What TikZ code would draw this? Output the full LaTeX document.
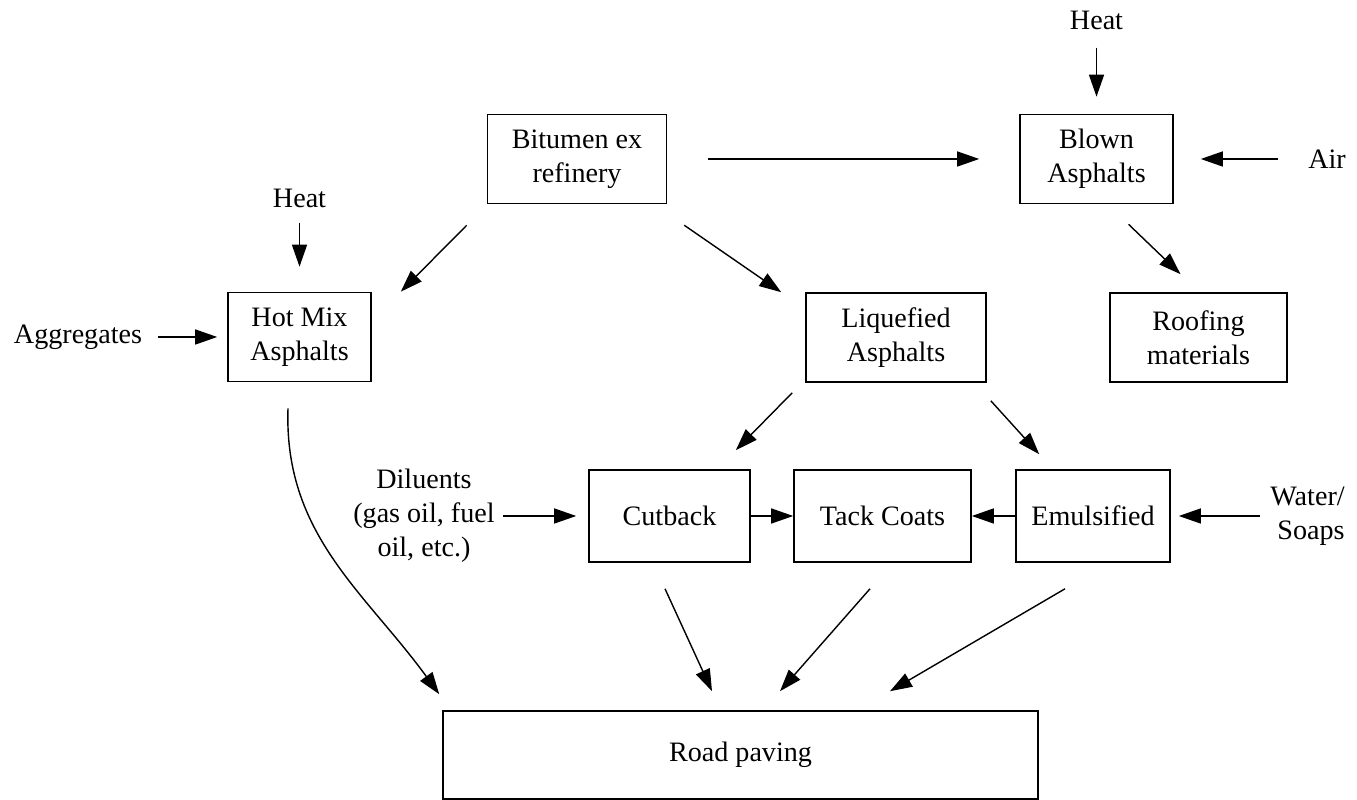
\documentclass[tikz,border=0pt]{standalone}
\usepackage{fontspec}
\setmainfont{Liberation Serif}
\usetikzlibrary{arrows.meta}

\begin{document}
\begin{tikzpicture}[
  stage/.style={draw, line width=0.9pt, minimum height=1.78cm, align=center, font=\fontsize{16}{19.3}\selectfont, inner sep=2pt},
  feed/.style={align=center, font=\fontsize{16}{19.3}\selectfont, inner sep=0pt},
  flow/.style={line width=0.8pt, -{Triangle[length=4.4mm,width=3mm]}}
]
  \useasboundingbox (0,0) rectangle (27.14,16);

  \node[stage, minimum width=3.58cm] (bitumen) at (11.54,12.82) {Bitumen ex\\refinery};
  \node[stage, minimum width=3.06cm] (blown) at (21.93,12.82) {Blown\\Asphalts};
  \node[stage, minimum width=2.86cm] (hotmix) at (5.99,9.26) {Hot Mix\\Asphalts};
  \node[stage, minimum width=3.6cm] (liquefied) at (17.92,9.25) {Liquefied\\Asphalts};
  \node[stage, minimum width=3.54cm] (roofing) at (23.97,9.25) {Roofing\\materials};
  \node[stage, minimum width=3.22cm, minimum height=1.84cm] (cutback) at (13.39,5.68) {Cutback};
  \node[stage, minimum width=3.54cm, minimum height=1.84cm] (tack) at (17.65,5.68) {Tack Coats};
  \node[stage, minimum width=3.08cm, minimum height=1.84cm] (emulsified) at (21.86,5.68) {Emulsified};
  \node[stage, minimum width=11.9cm, minimum height=1.76cm] (road) at (14.81,0.9) {Road paving};

  \node[feed] (heattop) at (21.93,15.6) {Heat};
  \node[feed] (heatleft) at (5.99,12.04) {Heat};
  \node[feed] (air) at (26.54,12.82) {Air};
  \node[feed] (aggregates) at (1.56,9.26) {Aggregates};
  \node[feed] (diluents) at (8.48,5.68) {Diluents\\(gas oil, fuel\\oil, etc.)};
  \node[feed, align=right, anchor=east] (water) at (26.9,5.68) {Water/\\Soaps};

  \draw[flow, shorten <=0.36cm, shorten >=0.34cm] (heattop) -- (blown);
  \draw[flow, shorten <=0.6cm, shorten >=0.54cm] (air) -- (blown);
  \draw[flow, shorten <=0.82cm, shorten >=0.8cm] (bitumen) -- (blown);
  \draw[flow, shorten <=0.3cm, shorten >=0.5cm] (heatleft) -- (hotmix);
  \draw[flow, shorten <=0.32cm, shorten >=0.2cm] (aggregates) -- (hotmix);
  \draw[flow, shorten <=0.16cm, shorten >=0.24cm] (diluents) -- (cutback);
  \draw[flow] (cutback) -- (tack);
  \draw[flow] (emulsified) -- (tack);
  \draw[flow, shorten <=0.2cm, shorten >=0.16cm] (water) -- (emulsified);

  \draw[flow] ([shift={(-0.4,-0.42)}]bitumen.south west) -- ([shift={(0.58,0)}]hotmix.north east);
  \draw[flow] ([shift={(0.34,-0.42)}]bitumen.south east) -- ([shift={(-0.48,0)}]liquefied.north west);
  \draw[flow] ([shift={(0.64,-0.4)}]blown.south) -- ([shift={(-0.36,0.36)}]roofing.north);
  \draw[flow] ([shift={(-0.26,-0.2)}]liquefied.south west) -- ([shift={(-0.3,0.38)}]cutback.north east);
  \draw[flow] ([shift={(0.08,-0.36)}]liquefied.south east) -- ([shift={(0.48,0.3)}]emulsified.north west);

  \draw[flow] ([shift={(-0.23,-0.52)}]hotmix.south) to[out=-92,in=126] ([shift={(-0.06,0.32)}]road.north west);
  \draw[flow] ([shift={(-0.09,-0.52)}]cutback.south) -- ([shift={(-0.57,0.38)}]road.north);
  \draw[flow] ([shift={(-0.25,-0.52)}]tack.south) -- ([shift={(0.79,0.38)}]road.north);
  \draw[flow] ([shift={(-0.56,-0.52)}]emulsified.south) -- ([shift={(2.99,0.38)}]road.north);
\end{tikzpicture}
\end{document}
